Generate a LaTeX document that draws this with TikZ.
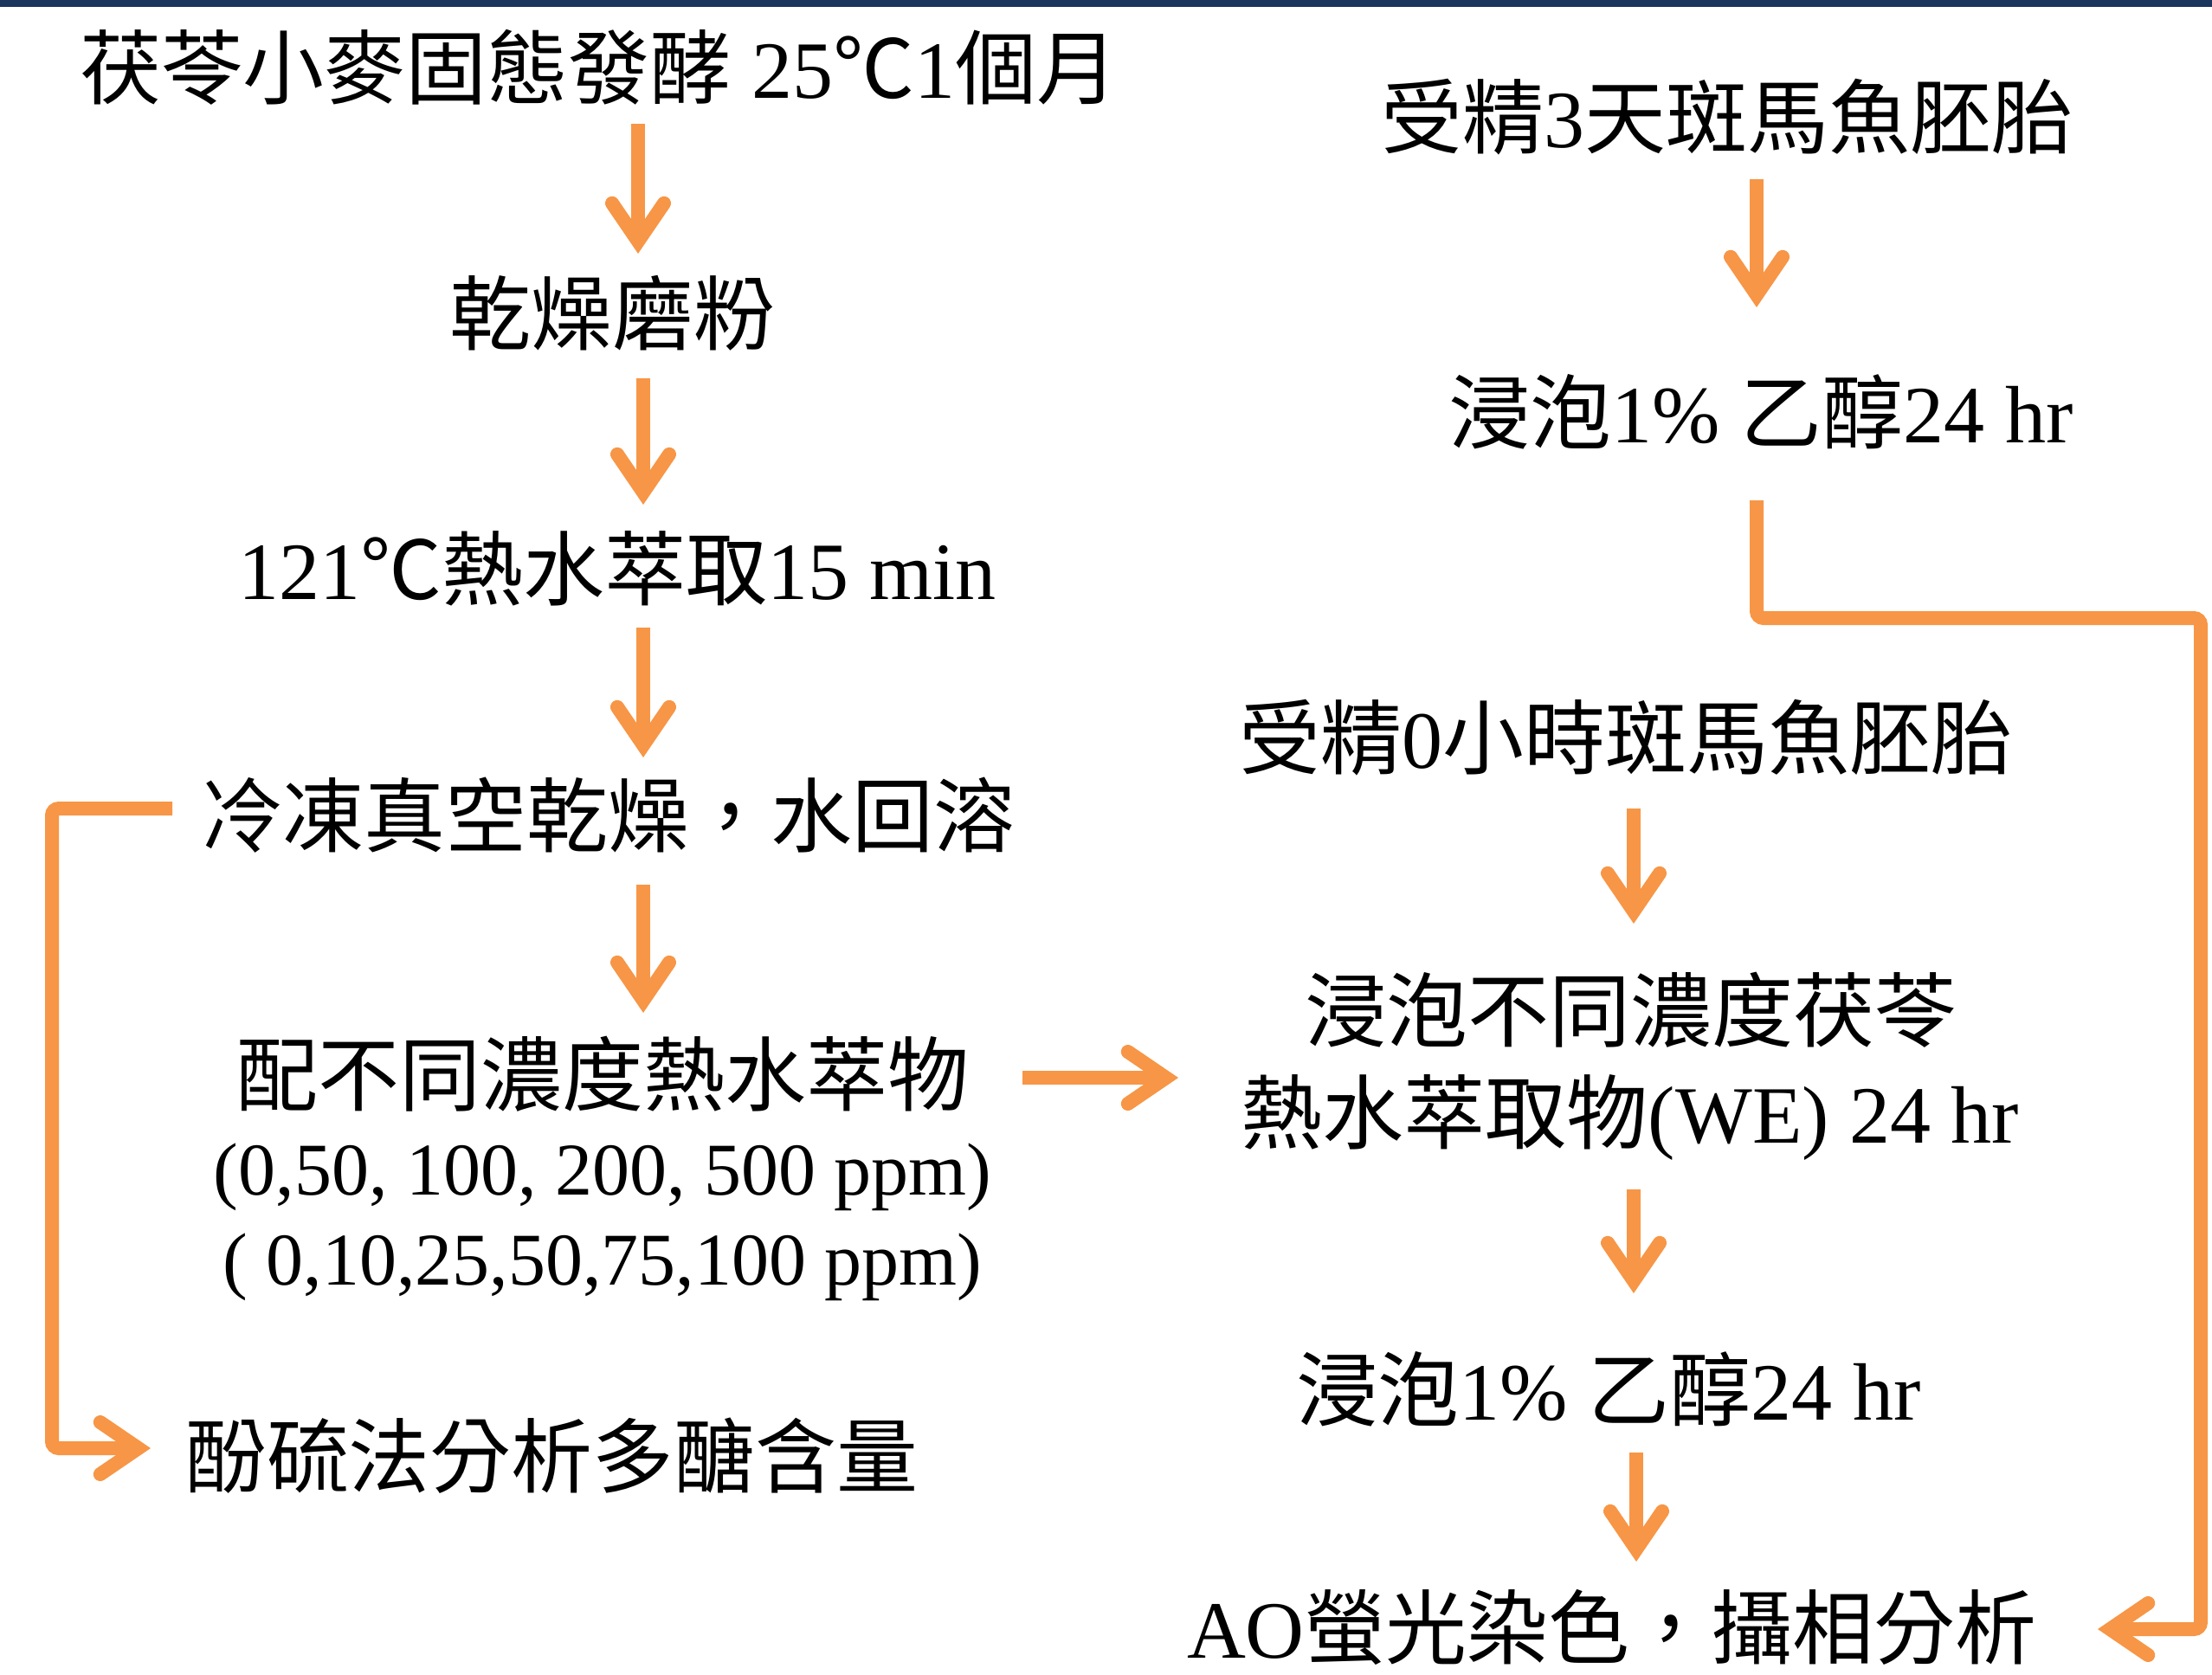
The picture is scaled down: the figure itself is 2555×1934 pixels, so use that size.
\documentclass[tikz,border=0pt]{standalone}
\usepackage{fontspec}
\setmainfont{Liberation Serif}
\newfontfamily\cjk{Noto Sans CJK TC}
\usetikzlibrary{arrows.meta}
\definecolor{arrowc}{HTML}{F79646}
\definecolor{barc}{HTML}{1B365D}
\newcommand\zh[1]{{\cjk #1}}
\newcommand\smallnum[1]{{\fontsize{43}{52}\selectfont #1}}
\begin{document}
\begin{tikzpicture}[x=0.5pt,y=-0.5pt,
  txt/.style={font=\fontsize{47}{52}\selectfont, inner sep=0pt, align=center},
  arr/.style={draw=arrowc, line width=8pt, line cap=butt,
    -{Straight Barb[length=22pt, width=30pt, line cap=round]}},
  elbow/.style={arr, rounded corners=4pt}]
\path[use as bounding box] (0,0) rectangle (2555,1934);
\fill[barc] (0,0) rectangle (2555,8);

% left column
\node[txt] (t1) at (692,78) {\zh{茯苓小麥固態發酵} 25\zh{℃}1\zh{個月}};
\node[txt] (t2) at (707,362) {\zh{乾燥磨粉}};
\node[txt] (t3) at (713,657) {121\zh{℃熱水萃取}15 min};
\node[txt] (t4) at (702,942) {\zh{冷凍真空乾燥，水回溶}};
\node[txt] (t5) at (696,1350) {\zh{配不同濃度熱水萃物}\\\smallnum{(0,50, 100, 200, 500 ppm)}\\\smallnum{( 0,10,25,50,75,100 ppm)}};
\node[txt] (t6) at (637,1682) {\zh{酚硫法分析多醣含量}};

% right column
\node[txt] (r1) at (1995,135) {\zh{受精}3\zh{天斑馬魚胚胎}};
\node[txt] (r2) at (2034,476) {\zh{浸泡}1\% \zh{乙醇}24 hr};
\node[txt] (r3) at (1878,852) {\zh{受精}0\zh{小時斑馬魚胚胎}};
\node[txt, font=\fontsize{47}{59}\selectfont] (r4) at (1883,1232) {\zh{浸泡不同濃度茯苓}\\\zh{熱水萃取物}(WE) 24 hr};
\node[txt] (r5) at (1858,1605) {\zh{浸泡}1\% \zh{乙醇}24 hr};
\node[txt] (r6) at (1862,1880) {AO\zh{螢光染色，攝相分析}};

% arrow end points
\coordinate (a1s) at (737,143);  \coordinate (a1e) at (737,293);
\coordinate (a2s) at (743,437);  \coordinate (a2e) at (743,583);
\coordinate (a3s) at (743,725);  \coordinate (a3e) at (743,875);
\coordinate (a4s) at (743,1022); \coordinate (a4e) at (743,1170);
\coordinate (a5s) at (1181,1245); \coordinate (a5e) at (1361,1245);
\coordinate (l1s) at (199,934); \coordinate (l1e) at (174,1673);
\coordinate (b1s) at (2029,207); \coordinate (b1e) at (2029,355);
\coordinate (l2s) at (2029,578); \coordinate (l2e) at (2423,1882);
\coordinate (b2s) at (1887,934); \coordinate (b2e) at (1887,1067);
\coordinate (b3s) at (1887,1374); \coordinate (b3e) at (1887,1494);
\coordinate (b4s) at (1890,1678); \coordinate (b4e) at (1890,1804);

\draw[arr] (a1s) -- (a1e);
\draw[arr] (a2s) -- (a2e);
\draw[arr] (a3s) -- (a3e);
\draw[arr] (a4s) -- (a4e);
\draw[arr] (a5s) -- (a5e);
\draw[elbow] (l1s) -- (60,934) -- (60,1673) -- (l1e);
\draw[arr] (b1s) -- (b1e);
\draw[elbow] (l2s) -- (2029,714) -- (2542,714) -- (2542,1882) -- (l2e);
\draw[arr] (b2s) -- (b2e);
\draw[arr] (b3s) -- (b3e);
\draw[arr] (b4s) -- (b4e);
\end{tikzpicture}
\end{document}
